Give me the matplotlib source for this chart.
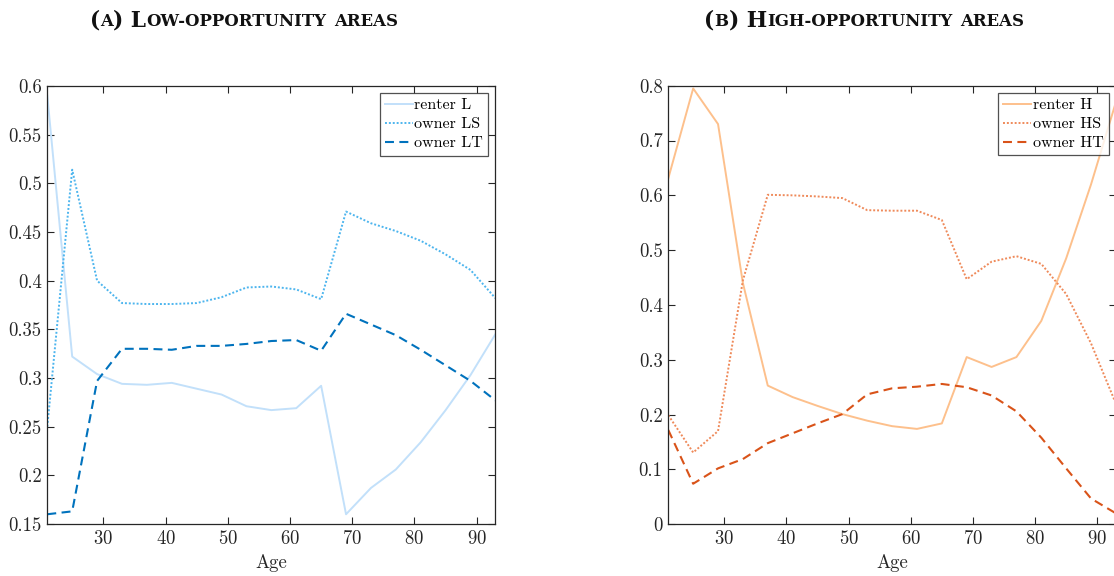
import matplotlib
matplotlib.use("Agg")
import matplotlib.pyplot as plt
from matplotlib.ticker import FixedLocator, FuncFormatter

# ---- data -------------------------------------------------------------
ages = [21, 25, 29, 33, 37, 41, 45, 49, 53, 57, 61, 65, 69, 73, 77, 81, 85, 89, 93]

renter_L = [0.590, 0.322, 0.304, 0.294, 0.293, 0.295, 0.289, 0.283, 0.271, 0.267,
            0.269, 0.292, 0.160, 0.187, 0.206, 0.234, 0.267, 0.303, 0.345]
owner_LS = [0.250, 0.514, 0.400, 0.377, 0.376, 0.376, 0.377, 0.383, 0.393, 0.394,
            0.391, 0.381, 0.471, 0.459, 0.451, 0.441, 0.427, 0.411, 0.382]
owner_LT = [0.160, 0.163, 0.297, 0.330, 0.330, 0.329, 0.333, 0.333, 0.335, 0.338,
            0.339, 0.328, 0.366, 0.355, 0.344, 0.329, 0.313, 0.297, 0.277]

renter_H = [0.631, 0.795, 0.730, 0.440, 0.253, 0.232, 0.216, 0.201, 0.189, 0.179,
            0.174, 0.184, 0.305, 0.287, 0.305, 0.371, 0.485, 0.620, 0.770]
owner_HS = [0.199, 0.131, 0.170, 0.445, 0.601, 0.600, 0.598, 0.595, 0.573, 0.572,
            0.572, 0.555, 0.447, 0.479, 0.489, 0.475, 0.420, 0.330, 0.220]
owner_HT = [0.172, 0.074, 0.102, 0.119, 0.148, 0.166, 0.184, 0.201, 0.237, 0.248,
            0.251, 0.256, 0.250, 0.235, 0.206, 0.158, 0.102, 0.047, 0.020]

x_ticks = [30, 40, 50, 60, 70, 80, 90]
low_yticks = [0.15, 0.2, 0.25, 0.3, 0.35, 0.4, 0.45, 0.5, 0.55, 0.6]
high_yticks = [0, 0.1, 0.2, 0.3, 0.4, 0.5, 0.6, 0.7, 0.8]

low_labels = ["renter L", "owner LS", "owner LT"]
high_labels = ["renter H", "owner HS", "owner HT"]

# ---- style ------------------------------------------------------------
plt.rcParams["font.family"] = ["cmr10", "DejaVu Serif"]
plt.rcParams["axes.formatter.use_mathtext"] = True
plt.rcParams["mathtext.fontset"] = "cm"

AX_COL = "#262626"
W, H = 1114, 576
fig = plt.figure(figsize=(W / 100, H / 100), dpi=100)


def px_axes(x0, x1, ytop, ybot):
    return fig.add_axes([x0 / W, 1 - ybot / H, (x1 - x0) / W, (ybot - ytop) / H])


def fmt(v, _pos):
    return ("%.2f" % v).rstrip("0").rstrip(".")


def style_axes(ax, yticks, ylim):
    ax.set_xlim(21, 93)
    ax.set_ylim(*ylim)
    ax.xaxis.set_major_locator(FixedLocator(x_ticks))
    ax.yaxis.set_major_locator(FixedLocator(yticks))
    ax.yaxis.set_major_formatter(FuncFormatter(fmt))
    ax.tick_params(direction="in", length=5, width=0.8, colors=AX_COL,
                   labelsize=13.5, top=True, right=True, pad=4)
    for s in ax.spines.values():
        s.set_color(AX_COL)
        s.set_linewidth(0.9)
    ax.set_xlabel("Age", fontsize=13.5, color=AX_COL, labelpad=4.5)


def draw(ax, series, labels, colors):
    (c0, c1, c2) = colors
    ax.plot(ages, series[0], color=c0, lw=1.4, ls="-", label=labels[0])
    ax.plot(ages, series[1], color=c1, lw=1.4, ls=(0, (1.0, 1.0)), label=labels[1])
    ax.plot(ages, series[2], color=c2, lw=1.5, ls=(0, (4.3, 2.6)), label=labels[2])
    leg = ax.legend(loc="upper right", fontsize=11.5, frameon=True, fancybox=False,
                    borderaxespad=0.45, handlelength=1.75, handletextpad=0.1,
                    labelspacing=0.3, borderpad=0.32)
    leg.get_frame().set_edgecolor(AX_COL)
    leg.get_frame().set_linewidth(0.9)


ax_low = px_axes(47.3, 495.4, 86.0, 524.0)
draw(ax_low, [renter_L, owner_LS, owner_LT], low_labels,
     ["#c2e0fa", "#4db5ee", "#0072bd"])
style_axes(ax_low, low_yticks, (0.15, 0.6))

ax_high = px_axes(668.3, 1115.9, 85.7, 524.3)
draw(ax_high, [renter_H, owner_HS, owner_HT], high_labels,
     ["#fdc08c", "#ef8a5a", "#d95319"])
style_axes(ax_high, high_yticks, (0, 0.8))


# ---- small-caps panel captions -----------------------------------------
def small_caps(pieces, cx, baseline, big=15.6, small=11.9):
    renderer = fig.canvas.get_renderer()
    arts = []
    for txt, is_big in pieces:
        t = fig.text(0, 0, txt, fontsize=big if is_big else small,
                     family="DejaVu Serif", weight="bold",
                     va="baseline", ha="left", color="#111111")
        arts.append(t)
    widths = [a.get_window_extent(renderer).width for a in arts]
    x = cx - sum(widths) / 2
    for a, w in zip(arts, widths):
        a.set_position((x / W, 1 - baseline / H))
        x += w


small_caps([("(", True), ("A", False), (") L", True), ("OW-OPPORTUNITY", False),
            (" ", True), ("AREAS", False)], 244, 26)
small_caps([("(", True), ("B", False), (") H", True), ("IGH-OPPORTUNITY", False),
            (" ", True), ("AREAS", False)], 864, 26)

fig.savefig("out.png", dpi=100)
